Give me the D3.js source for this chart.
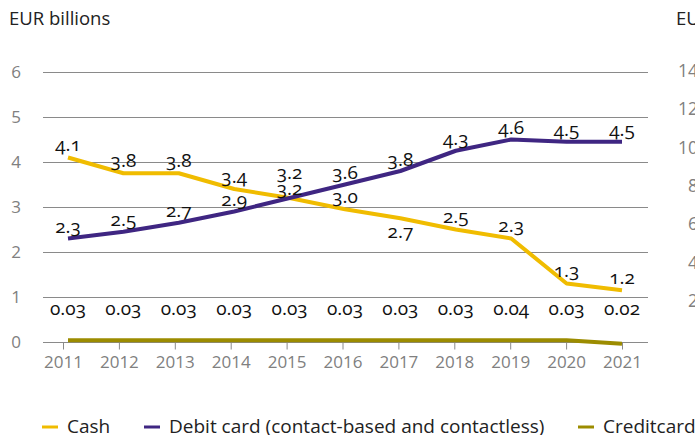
<!DOCTYPE html>
<html>
<head>
<meta charset="utf-8">
<script src="https://cdn.jsdelivr.net/npm/d3@7"></script>
<style>
  html, body { margin: 0; padding: 0; background: #fff; }
  svg { display: block; }
  text { font-family: "Open Sans", "Noto Sans", sans-serif; }
  .lbl { font-family: "Noto Sans", "Open Sans", sans-serif; font-variant-numeric: oldstyle-nums; font-feature-settings: "onum" 1; }
</style>
</head>
<body>
<svg id="chart" width="695" height="435"></svg>
<script>
// ---- data ----
const years = [2011, 2012, 2013, 2014, 2015, 2016, 2017, 2018, 2019, 2020, 2021];
const cash = [4.1, 3.75, 3.75, 3.4, 3.2, 2.95, 2.75, 2.5, 2.3, 1.3, 1.15];
const cashLabels = ["4.1", "3.8", "3.8", "3.4", "3.2", "3.0", "2.7", "2.5", "2.3", "1.3", "1.2"];
const debit = [2.3, 2.45, 2.65, 2.9, 3.2, 3.5, 3.8, 4.25, 4.5, 4.45, 4.45];
const debitLabels = ["2.3", "2.5", "2.7", "2.9", "3.2", "3.6", "3.8", "4.3", "4.6", "4.5", "4.5"];
const credit = [0.04, 0.04, 0.04, 0.04, 0.04, 0.04, 0.04, 0.04, 0.04, 0.04, -0.04];
const creditLabels = ["0.03", "0.03", "0.03", "0.03", "0.03", "0.03", "0.03", "0.03", "0.04", "0.03", "0.02"];
const yTicks = [0, 1, 2, 3, 4, 5, 6];
const rightTicks = [14, 12, 10, 8, 6, 4, 2];
const seriesNames = ["Cash", "Debit card (contact-based and contactless)", "Creditcard"];
const colors = ["#f0bc00", "#3f2682", "#9c8c00"];

// ---- scales ----
const svg = d3.select("#chart");
const xTick = d3.scalePoint().domain(years).range([63, 622]);
const xMark = d3.scalePoint().domain(years).range([68, 622]);
const y = d3.scaleLinear().domain([0, 6]).range([342, 72]);
const y2 = d3.scaleLinear().domain([2, 14]).range([301, 71]);

// unit label
svg.append("text").attr("x", 9).attr("y", 25).attr("font-size", 18.5).attr("fill", "#222").text("EUR billions");
svg.append("text").attr("x", 676).attr("y", 25).attr("font-size", 18.5).attr("fill", "#222").text("EUR billions");

// gridlines
svg.append("g").selectAll("line").data(yTicks).join("line")
  .attr("x1", 43).attr("x2", 648)
  .attr("y1", d => Math.round(y(d)) + 0.5).attr("y2", d => Math.round(y(d)) + 0.5)
  .attr("stroke", "#8a8a8a").attr("stroke-width", 1);

// y axis labels
svg.append("g").selectAll("text").data(yTicks).join("text")
  .attr("x", 21).attr("y", d => y(d)).attr("dy", "0.35em")
  .attr("text-anchor", "end").attr("font-size", 17).attr("fill", "#808080")
  .text(d => d);

// right (neighbouring chart) axis labels
svg.append("g").selectAll("text").data(rightTicks).join("text")
  .attr("x", 698).attr("y", d => y2(d)).attr("dy", "0.35em")
  .attr("text-anchor", "end").attr("font-size", 17.5).attr("fill", "#808080")
  .text(d => d);

// x axis
const xAxis = svg.append("g").attr("transform", `translate(0,${Math.round(y(0)) + 0.5})`)
  .call(d3.axisBottom(xTick).tickSizeInner(7).tickSizeOuter(0).tickPadding(6));
xAxis.select(".domain").remove();
xAxis.selectAll(".tick line").attr("stroke", "#8a8a8a");
xAxis.selectAll(".tick text").attr("font-size", 17).attr("fill", "#808080")
  .attr("font-family", "'Open Sans', sans-serif");

// lines
const allSeries = [cash, debit, credit];
const line = d3.line().x((d, i) => xMark(years[i])).y(d => y(d));
// draw credit first, then cash, then debit on top
[2, 0, 1].forEach(s => {
  svg.append("path").datum(allSeries[s]).attr("d", line)
    .attr("fill", "none").attr("stroke", colors[s]).attr("stroke-width", 4)
    .attr("stroke-linejoin", "round").attr("stroke-linecap", "butt");
});

// data labels
const lblG = svg.append("g").attr("class", "lbl").attr("font-size", 19).attr("fill", "#111").attr("text-anchor", "middle");
cash.forEach((v, i) => {
  let off = -13;
  if (i === 6) off = 13;      // 2017 label below the line
  if (i === 4) off = -10;     // 2015 shares position with debit
  lblG.append("text").attr("x", xMark(years[i])).attr("y", y(v) + off).attr("dy", "0.35em").text(cashLabels[i]);
});
debit.forEach((v, i) => {
  let off = -12;
  if (i === 4) off = -26;
  lblG.append("text").attr("x", xMark(years[i])).attr("y", y(v) + off).attr("dy", "0.35em").text(debitLabels[i]);
});
credit.forEach((v, i) => {
  lblG.append("text").attr("x", xMark(years[i])).attr("y", y(0) - 34).attr("dy", "0.35em").text(creditLabels[i]);
});

// legend
const legX = [42, 144, 578];
const leg = svg.append("g");
seriesNames.forEach((n, i) => {
  leg.append("line").attr("x1", legX[i]).attr("x2", legX[i] + 16)
    .attr("y1", 427).attr("y2", 427).attr("stroke", colors[i]).attr("stroke-width", 3);
  leg.append("text").attr("x", legX[i] + 25).attr("y", 433).attr("font-size", 19).attr("fill", "#222").text(n);
});
</script>
</body>
</html>
